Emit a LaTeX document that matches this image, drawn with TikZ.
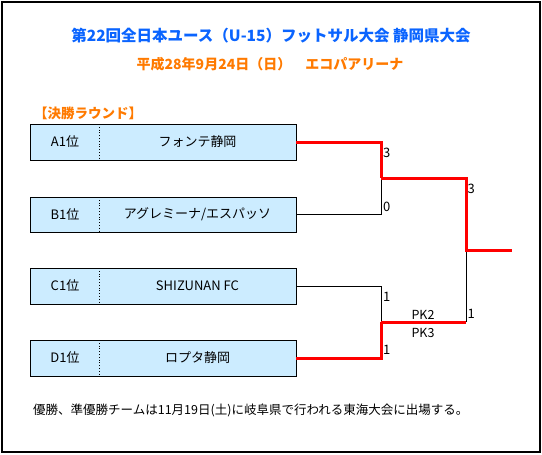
\documentclass[tikz,border=0pt]{standalone}
\usepackage{fontspec}
\setmainfont{Noto Sans CJK JP}
\definecolor{titleblue}{HTML}{0A64FF}
\definecolor{titleorange}{HTML}{FF7A00}
\definecolor{boxfill}{HTML}{CCECFF}
\definecolor{winred}{HTML}{FF0000}
\tikzset{
  teambox/.style={draw=black, line width=1pt, fill=boxfill},
  lbl/.style={inner sep=0pt, font=\fontsize{13}{15}\selectfont},
  score/.style={inner sep=0pt, anchor=west, font=\fontsize{13}{15}\selectfont},
  pk/.style={inner sep=0pt, font=\fontsize{12.5}{14}\selectfont},
  winline/.style={draw=winred, line width=3pt},
  loseline/.style={draw=black, line width=0.9pt},
}
\begin{document}
\begin{tikzpicture}[x=1pt,y=-1pt]
\useasboundingbox (0,0) rectangle (542,455);
\draw[line width=1.2pt] (2,2) rectangle (540,452);
% titles
\node[inner sep=0pt, text=titleblue, font=\fontsize{15.5}{18}\selectfont\bfseries] (title) at (271,36) {第22回全日本ユース（U-15）フットサル大会 静岡県大会};
\node[inner sep=0pt, text=titleorange, font=\fontsize{14}{16}\selectfont\bfseries] (sub) at (270,64) {平成28年9月24日（日）　エコパアリーナ};
\node[inner sep=0pt, anchor=west, text=titleorange, font=\fontsize{13.5}{16}\selectfont\bfseries] (round) at (34,113) {【決勝ラウンド】};
% boxes
\foreach \n/\t/\b in {A/124/160, B/197/232, C/268/304, D/340/376}{
  \draw[teambox] (30,\t) rectangle (296,\b);
  \draw[dotted, line width=0.8pt] (99,\t) -- (99,\b);
  \coordinate (\n) at (296,{(\t+\b)/2});
}
\node[lbl] (ra) at (65,142) {A1位};
\node[lbl] (ta) at (197.5,142) {フォンテ静岡};
\node[lbl] (rb) at (65,214.5) {B1位};
\node[lbl] (tb) at (197.5,214.5) {アグレミーナ/エスパッソ};
\node[lbl] (rc) at (65,286) {C1位};
\node[lbl] (tc) at (197.5,286) {SHIZUNAN FC};
\node[lbl] (rd) at (65,358) {D1位};
\node[lbl] (td) at (197.5,358) {ロプタ静岡};
% bracket joints
\coordinate (s1) at (381,178);
\coordinate (s2) at (381,322);
\coordinate (f) at (466,250);
\coordinate (w) at (512,250);
\coordinate (f2) at (466,322);
% semifinal 1
\draw[loseline] (B) -| (s1);
\draw[winline] (A) -| (s1);
% semifinal 2
\draw[loseline] (C) -| (s2);
\draw[winline] (D) -| (s2);
% final
\draw[loseline] (f2) -- (f);
\draw[winline] (s1) -| (f) -- (w);
\draw[winline] (s2) -- (f2);
% scores
\node[score] (sa) at (383,152.5) {3};
\node[score] (sb) at (383,207) {0};
\node[score] (sc) at (383,297) {1};
\node[score] (sd) at (383,350) {1};
\node[score] (sf1) at (467.5,188.5) {3};
\node[score] (sf2) at (467.5,314) {1};
\node[pk] (pk2) at (423,315) {PK2};
\node[pk] (pk3) at (423,332.5) {PK3};
% footer
\node[inner sep=0pt, anchor=west, font=\fontsize{12.5}{14}\selectfont] (foot) at (33,410) {優勝、準優勝チームは11月19日(土)に岐阜県で行われる東海大会に出場する。};
\end{tikzpicture}
\end{document}
